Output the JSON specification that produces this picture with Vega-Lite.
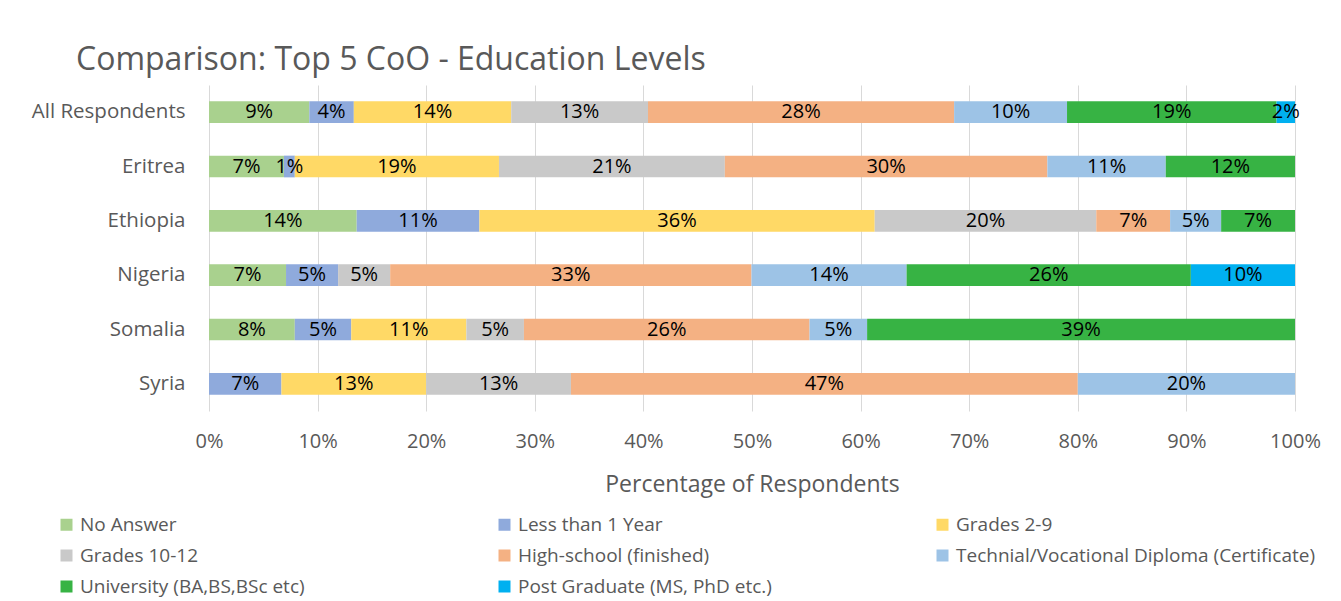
{
  "$schema": "https://vega.github.io/schema/vega-lite/v6.json",
  "autosize": {"type": "none"},
  "padding": {"left": 209, "top": 85, "right": 46, "bottom": 190},
  "width": 1086,
  "height": 326,
  "background": "white",
  "config": {"view": {"stroke": null}, "font": "Open Sans"},
  "title": {"text": "Comparison: Top 5 CoO - Education Levels", "anchor": "start", "frame": "group", "dx": -133, "offset": 8, "fontSize": 32, "fontWeight": "normal", "color": "#595959", "font": "Open Sans"},
  "data": {"values": [
    {"c": "All Respondents", "e": "No Answer", "o": 1, "v": 0.0924},
    {"c": "All Respondents", "e": "Less than 1 Year", "o": 2, "v": 0.041},
    {"c": "All Respondents", "e": "Grades 2-9", "o": 3, "v": 0.145},
    {"c": "All Respondents", "e": "Grades 10-12", "o": 4, "v": 0.126},
    {"c": "All Respondents", "e": "High-school (finished)", "o": 5, "v": 0.282},
    {"c": "All Respondents", "e": "Technial/Vocational Diploma (Certificate)", "o": 6, "v": 0.104},
    {"c": "All Respondents", "e": "University (BA,BS,BSc etc)", "o": 7, "v": 0.193},
    {"c": "All Respondents", "e": "Post Graduate (MS, PhD etc.)", "o": 8, "v": 0.017},
    {"c": "Eritrea", "e": "No Answer", "o": 1, "v": 0.069},
    {"c": "Eritrea", "e": "Less than 1 Year", "o": 2, "v": 0.010},
    {"c": "Eritrea", "e": "Grades 2-9", "o": 3, "v": 0.188},
    {"c": "Eritrea", "e": "Grades 10-12", "o": 4, "v": 0.208},
    {"c": "Eritrea", "e": "High-school (finished)", "o": 5, "v": 0.297},
    {"c": "Eritrea", "e": "Technial/Vocational Diploma (Certificate)", "o": 6, "v": 0.109},
    {"c": "Eritrea", "e": "University (BA,BS,BSc etc)", "o": 7, "v": 0.119},
    {"c": "Ethiopia", "e": "No Answer", "o": 1, "v": 0.136},
    {"c": "Ethiopia", "e": "Less than 1 Year", "o": 2, "v": 0.113},
    {"c": "Ethiopia", "e": "Grades 2-9", "o": 3, "v": 0.364},
    {"c": "Ethiopia", "e": "Grades 10-12", "o": 4, "v": 0.204},
    {"c": "Ethiopia", "e": "High-school (finished)", "o": 5, "v": 0.068},
    {"c": "Ethiopia", "e": "Technial/Vocational Diploma (Certificate)", "o": 6, "v": 0.047},
    {"c": "Ethiopia", "e": "University (BA,BS,BSc etc)", "o": 7, "v": 0.068},
    {"c": "Nigeria", "e": "No Answer", "o": 1, "v": 0.071},
    {"c": "Nigeria", "e": "Less than 1 Year", "o": 2, "v": 0.048},
    {"c": "Nigeria", "e": "Grades 10-12", "o": 4, "v": 0.048},
    {"c": "Nigeria", "e": "High-school (finished)", "o": 5, "v": 0.333},
    {"c": "Nigeria", "e": "Technial/Vocational Diploma (Certificate)", "o": 6, "v": 0.143},
    {"c": "Nigeria", "e": "University (BA,BS,BSc etc)", "o": 7, "v": 0.262},
    {"c": "Nigeria", "e": "Post Graduate (MS, PhD etc.)", "o": 8, "v": 0.096},
    {"c": "Somalia", "e": "No Answer", "o": 1, "v": 0.079},
    {"c": "Somalia", "e": "Less than 1 Year", "o": 2, "v": 0.052},
    {"c": "Somalia", "e": "Grades 2-9", "o": 3, "v": 0.106},
    {"c": "Somalia", "e": "Grades 10-12", "o": 4, "v": 0.053},
    {"c": "Somalia", "e": "High-school (finished)", "o": 5, "v": 0.263},
    {"c": "Somalia", "e": "Technial/Vocational Diploma (Certificate)", "o": 6, "v": 0.053},
    {"c": "Somalia", "e": "University (BA,BS,BSc etc)", "o": 7, "v": 0.394},
    {"c": "Syria", "e": "Less than 1 Year", "o": 2, "v": 0.0667},
    {"c": "Syria", "e": "Grades 2-9", "o": 3, "v": 0.1333},
    {"c": "Syria", "e": "Grades 10-12", "o": 4, "v": 0.1333},
    {"c": "Syria", "e": "High-school (finished)", "o": 5, "v": 0.4667},
    {"c": "Syria", "e": "Technial/Vocational Diploma (Certificate)", "o": 6, "v": 0.2}
  ]},
  "encoding": {
    "y": {"field": "c", "type": "nominal", "sort": ["All Respondents", "Eritrea", "Ethiopia", "Nigeria", "Somalia", "Syria"],
      "scale": {"paddingInner": 0.6, "paddingOuter": 0.3},
      "axis": {"title": null, "domain": false, "ticks": false, "labelPadding": 24, "labelFontSize": 20.5, "labelColor": "#595959", "labelFont": "Open Sans"}},
    "x": {"field": "v", "type": "quantitative", "stack": "normalize",
      "scale": {"domain": [0, 1], "nice": false},
      "axis": {"values": [0, 0.1, 0.2, 0.3, 0.4, 0.5, 0.6, 0.7, 0.8, 0.9, 1], "format": ".0%", "domain": false, "ticks": false, "grid": true, "gridColor": "#D9D9D9", "gridWidth": 1, "labelFlush": false, "labelPadding": 20, "labelFontSize": 20, "labelColor": "#595959", "labelFont": "Open Sans", "title": "Percentage of Respondents", "titleFontSize": 23, "titleFontWeight": "normal", "titleColor": "#595959", "titleFont": "Open Sans", "titlePadding": 22}},
    "order": {"field": "o", "type": "quantitative"},
    "detail": {"field": "e"}
  },
  "layer": [
    {"mark": {"type": "bar"},
     "encoding": {
       "color": {"field": "e", "type": "nominal", "sort": null,
         "scale": {"domain": ["No Answer", "Less than 1 Year", "Grades 2-9", "Grades 10-12", "High-school (finished)", "Technial/Vocational Diploma (Certificate)", "University (BA,BS,BSc etc)", "Post Graduate (MS, PhD etc.)"],
           "range": ["#A9D18E", "#8FAADC", "#FFD966", "#C9C9C9", "#F4B183", "#9DC3E6", "#37B344", "#00B0F0"]},
         "legend": {"title": null, "orient": "none", "direction": "horizontal", "legendX": -152, "legendY": 430, "columns": 3, "gridAlign": "all", "columnPadding": 56, "rowPadding": 11, "symbolType": "square", "symbolSize": 144, "symbolStrokeWidth": 0, "labelFontSize": 19, "labelColor": "#595959", "labelFont": "Open Sans", "labelLimit": 600, "labelOffset": 4}}
     }},
    {"mark": {"type": "text", "fontSize": 20, "color": "#000000", "font": "Open Sans"},
     "encoding": {
       "x": {"field": "v", "type": "quantitative", "stack": "normalize", "bandPosition": 0.5},
       "text": {"field": "v", "type": "quantitative", "format": ".0%"}
     }}
  ]
}
